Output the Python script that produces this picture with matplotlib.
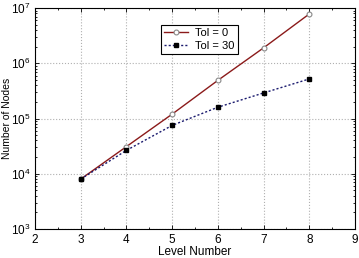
import numpy as np
import matplotlib.pyplot as plt
from matplotlib.ticker import LogLocator, NullFormatter, MultipleLocator

plt.rcParams['font.family'] = ['Liberation Sans', 'DejaVu Sans']

levels = [3, 4, 5, 6, 7, 8]
nodes_tol0 = [8000, 31000, 120000, 490000, 1.9e6, 7.8e6]
nodes_tol30 = [8000, 26500, 75000, 160000, 290000, 520000]

fig = plt.figure(figsize=(3.59, 2.58), dpi=100)
ax = fig.add_axes([35 / 359, 1 - 229 / 258, 320 / 359, 221 / 258])

ax.plot(levels, nodes_tol0, color='#8b1a1a', lw=1.0, marker='o', ms=3.5,
        mfc='white', mec='#888888', mew=0.8, label='Tol = 0')
ax.plot(levels, nodes_tol30, color='#1a1a6e', lw=1.0, ls=(0, (1.5, 1.5)),
        marker='s', ms=3.2, mfc='black', mec='black', label='Tol = 30')

ax.set_yscale('log')
ax.set_xlim(2, 9)
ax.set_ylim(1e3, 1e7)
ax.xaxis.set_major_locator(MultipleLocator(1))
ax.xaxis.set_minor_locator(MultipleLocator(0.5))
ax.yaxis.set_major_locator(LogLocator(base=10, numticks=10))
ax.yaxis.set_minor_locator(LogLocator(base=10, subs=np.arange(2, 10), numticks=20))
ax.yaxis.set_minor_formatter(NullFormatter())

ax.grid(True, which='major', color='#b0b0b0', ls=':', lw=0.8)
ax.tick_params(which='both', direction='in', top=True, right=True,
               labelsize=8.5, width=0.6)
ax.tick_params(which='major', length=3)
ax.tick_params(which='minor', length=1.5)
for s in ax.spines.values():
    s.set_linewidth(0.8)

ax.set_xlabel('Level Number', fontsize=8.5, labelpad=0)
ax.set_ylabel('Number of Nodes', fontsize=7.5)
ax.yaxis.set_label_coords(-0.072, 0.5)

leg = ax.legend(loc='upper left', bbox_to_anchor=(0.375, 0.95), fontsize=8,
                fancybox=False, edgecolor='black', framealpha=1,
                handlelength=2.2, handletextpad=0.6, borderpad=0.3,
                labelspacing=0.25)
leg.get_frame().set_linewidth(0.8)

fig.savefig('out.png', dpi=100)
